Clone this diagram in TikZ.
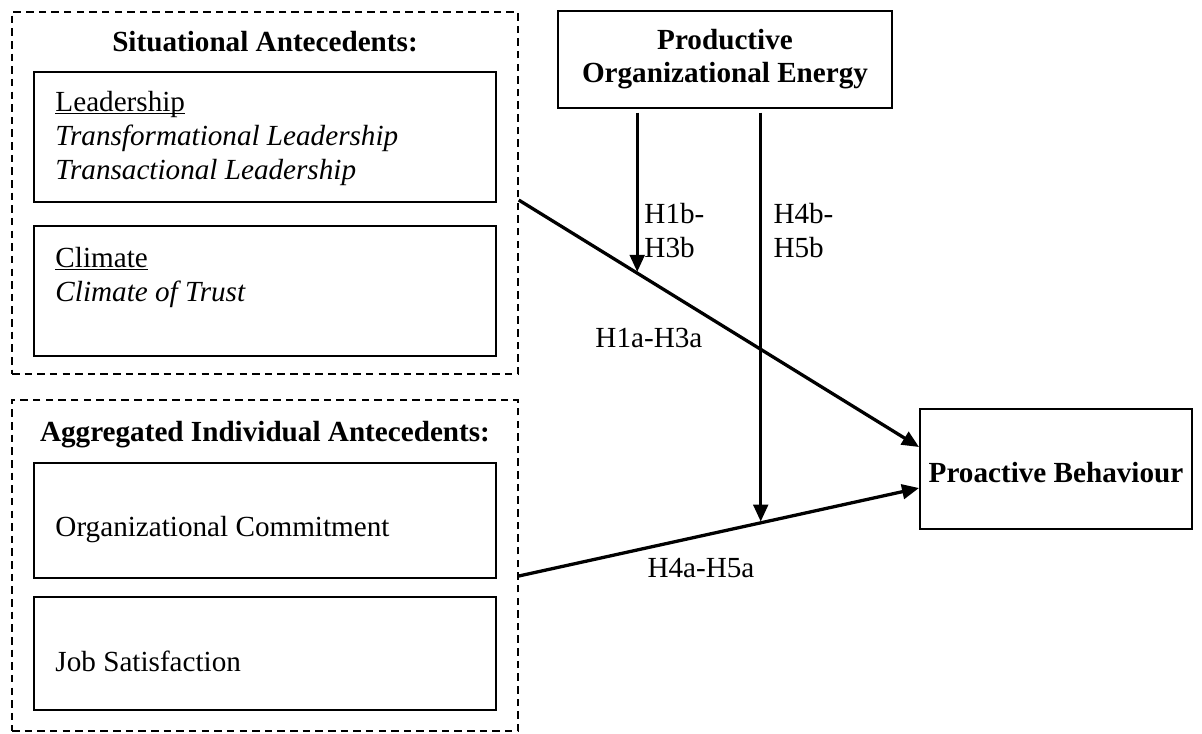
\documentclass[tikz,border=0pt]{standalone}
\usepackage{fontspec}
\setmainfont{Liberation Serif}
\usetikzlibrary{arrows.meta,calc}
\newcommand{\pxu}{0.4114pt}
\newcommand{\ulin}[1]{\setbox0=\hbox{#1}\rlap{\rule[-1.1pt]{\wd0}{0.55pt}}\box0}

\begin{document}
\begin{tikzpicture}[
			x=0.4114pt, y=-0.4114pt,
			font=\fontsize{12}{14}\selectfont,
			box/.style={draw, line width=0.8pt, inner sep=0pt},
			dbox/.style={draw, line width=0.6pt, dash pattern=on 3.1pt off 2.1pt, inner sep=0pt},
			txt/.style={inner sep=0pt, align=left},
			arr/.style={line width=1.35pt, -{Triangle[length=7pt,width=6pt]}}
			]
			\useasboundingbox (0,0) rectangle (1202,733);
			\node[dbox, minimum width=506*\pxu, minimum height=362*\pxu] (sit) at (265,193) {};
			\node[box, minimum width=462*\pxu, minimum height=130*\pxu] (lead) at (265,137) {};
			\node[box, minimum width=462*\pxu, minimum height=130*\pxu] (clim) at (265,291) {};
			\node[dbox, minimum width=506*\pxu, minimum height=331*\pxu] (agg) at (265,565.5) {};
			\node[box, minimum width=462*\pxu, minimum height=115*\pxu] (oc) at (265,520.5) {};
			\node[box, minimum width=462*\pxu, minimum height=113*\pxu] (js) at (265,653.5) {};
			\node[box, minimum width=334*\pxu, minimum height=97*\pxu] (poe) at (725,59.5) {};
			\node[box, minimum width=272*\pxu, minimum height=120*\pxu] (pb) at (1056,469) {};
			\node[anchor=base, inner sep=0pt] (sittl) at (265,51) {\textbf{Situational Antecedents:}};
			\node[anchor=base, inner sep=0pt] (aggtl) at (265,441) {\textbf{Aggregated Individual Antecedents:}};
			\node[txt, anchor=north west] (leadtx) at (55,91) {\ulin{Leadership}\\\textit{Transformational Leadership}\\\textit{Transactional Leadership}};
			\node[txt, anchor=north west] (climtx) at (55,247) {\ulin{Climate}\\\textit{Climate of Trust}};
			\node[anchor=base west, inner sep=0pt] (octx) at (55,536) {Organizational Commitment};
			\node[anchor=base west, inner sep=0pt] (jstx) at (55,671) {Job Satisfaction};
			\node[txt, align=center, anchor=north, font=\fontsize{12}{13.6}\selectfont\bfseries] (poetx) at (725,29) {Productive\\Organizational Energy};
			\node[anchor=base, inner sep=0pt] (pbtx) at (1056,482) {\textbf{Proactive Behaviour}};
			\draw[arr] ($(sit.east)+(0,7)$) -- ($(pb.west)+(0,-22)$) coordinate[pos=0.296] (m1);
			\draw[arr] ($(agg.east)+(0,10.5)$) -- ($(pb.west)+(0,19)$) coordinate[pos=0.6045] (m2);
			\draw[arr, shorten <=1.5pt, shorten >=0.5pt] (poe.south -| m1) -- (m1);
			\draw[arr, shorten <=1.5pt, shorten >=0.5pt] (poe.south -| m2) -- (m2);
			\node[txt, anchor=north west] (h1b) at (644,203) {H1b-\\H3b};
			\node[txt, anchor=north west] (h4b) at (773,203) {H4b-\\H5b};
			\node[anchor=base west, inner sep=0pt] (h1a) at (595,347) {H1a-H3a};
			\node[anchor=base west, inner sep=0pt] (h4a) at (647,577) {H4a-H5a};
		\end{tikzpicture}
\end{document}
